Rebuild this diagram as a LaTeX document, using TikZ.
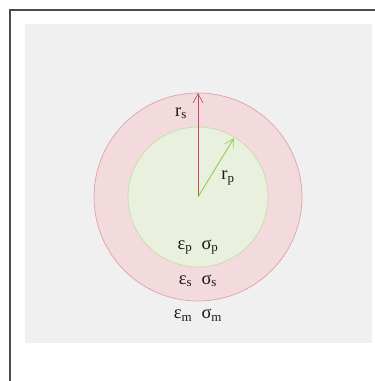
\documentclass[tikz,border=0pt]{standalone}
\usepackage{fontspec}
\setmainfont{Liberation Serif}
\usepackage{tikz}
\usetikzlibrary{arrows.meta, positioning, calc}
\definecolor{panelgray}{HTML}{F0F0F0}
\definecolor{shellfill}{HTML}{F2DADD}
\definecolor{shelldraw}{HTML}{DDA3AA}
\definecolor{corefill}{HTML}{E9F0DD}
\definecolor{coredraw}{HTML}{C8DCA8}
\definecolor{shellarrow}{HTML}{C24A5A}
\definecolor{corearrow}{HTML}{92D050}

\begin{document}
\begin{tikzpicture}[x=1pt, y=-1pt, font=\fontsize{18.5}{21}\selectfont,
  radiusarrow/.style={-{Straight Barb[length=3.2mm, width=3.4mm, line width=0.6pt]}, line width=0.9pt},
  lbl/.style={inner sep=0pt, text=black!90}]

\useasboundingbox (0,0) rectangle (375,381);
\clip (0,0) rectangle (375,381);

% ---- frame and panel ----------------------------------------------------
\fill[white] (0,0) rectangle (375,381);
\draw[black!70, line width=1.2pt] (10,10) rectangle (380,390);
\fill[panelgray] (25,24) rectangle (372,343);

% ---- shell and core -----------------------------------------------------
\coordinate (centre) at (198,197);
\fill[shellfill, draw=shelldraw, line width=0.7pt] (centre) circle[radius=104pt];
\fill[corefill, draw=coredraw, line width=0.7pt] (centre) circle[radius=70pt];

% ---- radii ----------------------------------------------------------------
\coordinate (shelltop) at ($(centre)+(0,-104)$);
\coordinate (coretip) at ($(centre)+(36,-59)$);
\draw[radiusarrow, shellarrow] (centre) -- (shelltop);
\draw[radiusarrow, corearrow] (centre) -- (coretip);
\node[lbl] (rs) at (181,113) {r\textsubscript{s}};
\node[lbl] (rp) at (228,178) {r\textsubscript{p}};

% ---- material constants ---------------------------------------------------
\node[lbl] (core) at (198,247) {ε\textsubscript{p}\ \ σ\textsubscript{p}};
\node[lbl] (shell) at (198,281) {ε\textsubscript{s}\ \ σ\textsubscript{s}};
\node[lbl] (medium) at (198,315) {ε\textsubscript{m}\ \ σ\textsubscript{m}};
\end{tikzpicture}
\end{document}
